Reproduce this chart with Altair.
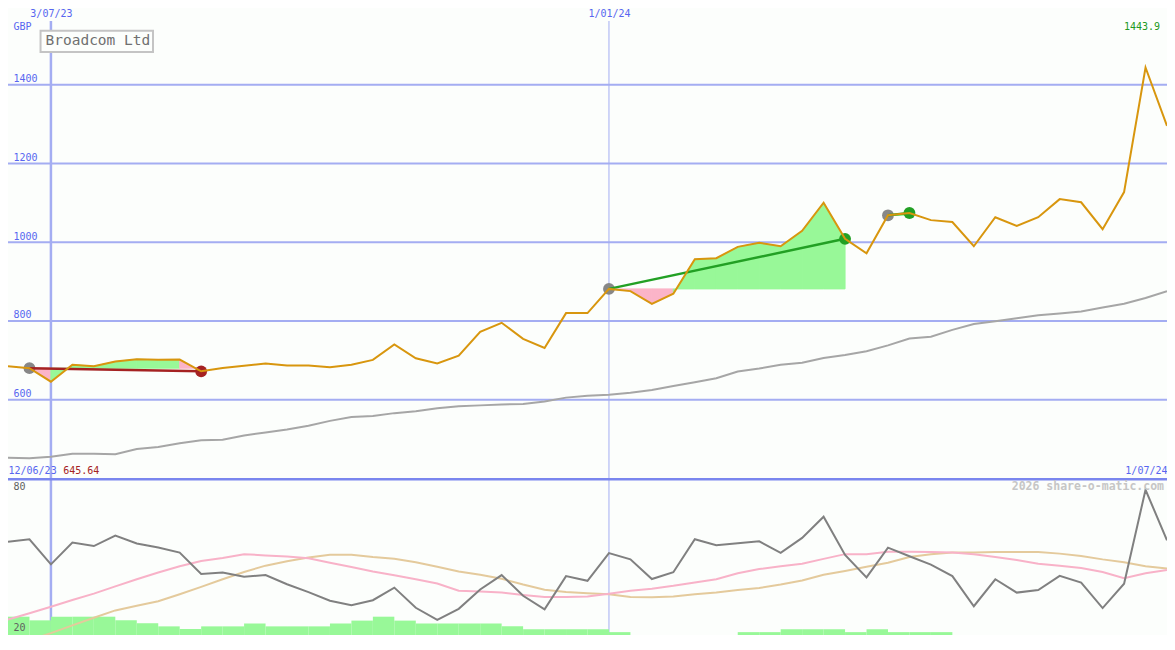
import altair as alt
import pandas as pd

# ---------------- data (weekly points, index 0 = first week shown) ----------------
weeks = list(range(55))
price = [684.6, 680.0, 645.64, 688.8, 685.1, 696.9, 702.8, 701.1, 701.8, 672.0,
         680.7, 686.3, 692.0, 687.1, 687.1, 682.2, 688.8, 701.1, 740.5, 705.3,
         692.0, 711.7, 772.4, 795.3, 754.5, 731.4, 819.9, 819.9, 881.4, 875.8,
         843.1, 869.1, 957.0, 959.4, 988.2, 998.8, 989.7, 1029.0, 1100.4, 1008.6,
         971.7, 1068.4, 1074.3, 1056.1, 1051.2, 989.7, 1063.5, 1041.3, 1063.5, 1109.5,
         1101.4, 1033.2, 1127.4, 1443.9, 1295.7]
ma = [452.6, 451.4, 455.1, 462.5, 462.5, 461.3, 474.8, 479.7, 489.5, 496.9,
      498.2, 509.2, 516.6, 524.0, 533.8, 546.1, 556.0, 558.4, 565.8, 570.7,
      578.1, 583.0, 585.5, 588.0, 589.2, 595.3, 605.2, 610.1, 612.5, 617.5,
      624.8, 634.7, 644.5, 654.4, 671.6, 679.0, 688.8, 693.7, 706.0, 713.4,
      723.2, 738.0, 755.2, 760.1, 777.4, 792.1, 799.5, 806.9, 814.3, 819.2,
      824.1, 833.9, 843.8, 858.5, 875.8]
osc = [55.6, 56.6, 47.0, 55.3, 54.0, 58.0, 55.0, 53.4, 51.5, 43.3,
       43.9, 42.3, 42.9, 39.4, 36.4, 33.1, 31.4, 33.3, 38.1, 30.4,
       25.8, 30.0, 37.4, 42.9, 35.0, 29.8, 42.5, 40.7, 51.3, 48.9,
       41.4, 44.0, 56.6, 54.3, 55.1, 55.8, 51.4, 57.1, 65.2, 50.6,
       42.0, 53.4, 50.1, 46.9, 42.5, 31.0, 41.3, 36.2, 37.2, 42.6,
       40.0, 30.3, 39.6, 75.5, 56.2]
osc_fast = [25.9, 28.3, 30.8, 33.4, 35.8, 38.6, 41.3, 43.9, 46.3, 48.3,
            49.4, 50.9, 50.4, 50.0, 49.3, 47.6, 46.0, 44.3, 42.8, 41.3,
            39.7, 36.9, 36.6, 36.2, 35.3, 34.5, 34.5, 34.7, 35.8, 36.9,
            37.7, 38.8, 40.1, 41.3, 43.6, 45.2, 46.3, 47.2, 49.1, 50.9,
            50.9, 51.8, 51.8, 51.7, 51.5, 50.9, 49.8, 48.7, 47.2, 46.5,
            45.6, 44.1, 41.7, 43.6, 44.8]
osc_slow = [15.2, 18.0, 20.7, 23.7, 26.6, 29.4, 31.2, 32.9, 35.6, 38.4,
            41.3, 44.1, 46.5, 48.2, 49.6, 50.7, 50.7, 49.8, 49.1, 47.8,
            46.1, 44.3, 43.0, 41.5, 39.3, 37.3, 36.4, 36.0, 35.6, 34.5,
            34.4, 34.7, 35.6, 36.2, 37.2, 38.0, 39.3, 40.8, 43.0, 44.5,
            46.1, 47.6, 49.8, 50.9, 51.5, 51.5, 51.7, 51.7, 51.7, 51.1,
            50.2, 48.9, 47.8, 46.3, 45.4]
hist = [27.0, 25.6, 27.0, 27.0, 27.0, 25.6, 24.5, 23.3, 22.3, 23.3,
        23.3, 24.4, 23.3, 23.3, 23.3, 24.4, 25.5, 27.0, 25.5, 24.4,
        24.4, 24.4, 24.4, 23.3, 22.2, 22.2, 22.2, 22.2, 21.1, 20.0,
        20.0, 20.0, 20.0, 20.0, 21.1, 21.1, 22.2, 22.2, 22.2, 21.1,
        22.2, 21.1, 21.1, 21.1, 20.0, 20.0, 20.0, 20.0, 20.0, 20.0,
        20.0, 20.0, 20.0, 20.0, 20.0]
trades = [(1, 9), (28, 39), (41, 42)]          # (entry week, exit week)
grid_weeks = [2, 28]
grid_labels = ["3/07/23", "1/01/24"]
edge_weeks = [0, 54]
edge_labels = ["12/06/23", "1/07/24"]
price_ticks = [600, 800, 1000, 1200, 1400]
osc_ticks = [20, 80]
price_domain = [401, 1562]
osc_domain = [20, 80]
stock_name = "Broadcom Ltd"
currency = "GBP"
high_label = "1443.9"
low_label = "645.64"
credit = "2026 share-o-matic.com"

# ---------------- layout / style ----------------
W, HT, HB = 1159, 457, 157
SX = W / 1175
SY = (HT + HB) / 635
MONO = "DejaVu Sans Mono"
BG = "#fcfefc"
GRID = "#a4adf2"
SEP = "#7a86ee"
BLUE_TXT = "#5866f0"
PRICE_COL = "#d8960e"
MA_COL = "#a6a6a6"
FILL_UP, FILL_DOWN = "#98f898", "#fbb4c8"


def lbl_expr(vals, labs):
    e = "''"
    for v, l in zip(vals, labs):
        e = f"datum.value == {v} ? '{l}' : ({e})"
    return e


xs = alt.Scale(domain=[0, 54], nice=False, zero=False)
ps = alt.Scale(domain=price_domain, nice=False, zero=False)
oscs = alt.Scale(domain=osc_domain, nice=False, zero=False)

# ---------------- derived tables ----------------
price_df = pd.DataFrame({"week": weeks, "price": price, "ma": ma})

fill_rows, trade_rows, dot_rows = [], [], []
seg = 0
for t, (a, b) in enumerate(trades):
    base = price[a]
    res = "gain" if price[b] >= base else "loss"
    for k in range(a, b):
        d = "up" if price[k + 1] >= base else "down"
        for j in (k, k + 1):
            fill_rows.append({"week": j, "price": price[j], "base": base, "seg": seg, "dir": d})
        seg += 1
    trade_rows += [{"week": a, "price": price[a], "trade": t, "res": res},
                   {"week": b, "price": price[b], "trade": t, "res": res}]
    dot_rows += [{"week": a, "price": price[a], "kind": "entry"},
                 {"week": b, "price": price[b], "kind": res}]
fill_df = pd.DataFrame(fill_rows)
trade_df = pd.DataFrame(trade_rows)
dot_df = pd.DataFrame(dot_rows)

osc_df = pd.DataFrame({"week": weeks, "osc": osc, "fast": osc_fast, "slow": osc_slow,
                       "hist": hist, "week_end": [w + 1 for w in weeks],
                       "floor": [osc_domain[0]] * len(weeks)})
vgrid_df = pd.DataFrame({"week": grid_weeks})
hgrid_df = pd.DataFrame({"v": price_ticks})
sep_df = pd.DataFrame({"v": [osc_domain[1]]})

# ---------------- top panel ----------------
top_x_axis = alt.Axis(orient="top", values=grid_weeks, labelExpr=lbl_expr(grid_weeks, grid_labels),
                      grid=False, ticks=False, tickSize=0, domain=False, labelColor=BLUE_TXT,
                      labelFont=MONO, labelFontSize=10, labelPadding=3, title=None)
top_y_axis = alt.Axis(values=price_ticks, format="d", grid=False, ticks=False, tickSize=0,
                      domain=False, labelAlign="left", labelBaseline="bottom", labelPadding=-5,
                      labelOffset=-1, labelColor=BLUE_TXT, labelFont=MONO, labelFontSize=10,
                      title=currency, titleAngle=0, titleAlign="left", titleBaseline="middle",
                      titleX=5 * SX, titleY=6 * SY, titleColor=BLUE_TXT, titleFont=MONO,
                      titleFontSize=10, titleFontWeight="normal", zindex=1)


def TX():
    return alt.X("week:Q", scale=xs, axis=top_x_axis)


def TY(f):
    return alt.Y(f"{f}:Q", scale=ps, axis=top_y_axis, stack=None)


def vwidth():
    return alt.condition(alt.datum.week == grid_weeks[0], alt.value(2.5), alt.value(1))


hgrid = alt.Chart(hgrid_df).mark_rule(color=GRID, strokeWidth=2, clip=True).encode(y=TY("v"))
vgrid_top = alt.Chart(vgrid_df).mark_rule(color=GRID, clip=True).encode(x=TX(), strokeWidth=vwidth())

fill = alt.Chart(fill_df).mark_area(interpolate="linear", opacity=1, strokeWidth=1, clip=True).encode(
    x=TX(), y=TY("price"), y2="base:Q", detail="seg:N",
    color=alt.Color("dir:N", scale=alt.Scale(domain=["up", "down"], range=[FILL_UP, FILL_DOWN]), legend=None),
    stroke=alt.Stroke("dir:N", scale=alt.Scale(domain=["up", "down"], range=[FILL_UP, FILL_DOWN]), legend=None))

dots = alt.Chart(dot_df).mark_circle(size=140, opacity=1, clip=True).encode(
    x=TX(), y=TY("price"),
    color=alt.Color("kind:N", scale=alt.Scale(domain=["entry", "gain", "loss"],
                                              range=["#878787", "#22a024", "#a52222"]), legend=None))

trade_lines = alt.Chart(trade_df).mark_line(strokeWidth=2.5, clip=True).encode(
    x=TX(), y=TY("price"), detail="trade:N",
    color=alt.Color("res:N", scale=alt.Scale(domain=["gain", "loss"], range=["#22a024", "#a52222"]), legend=None))

ma_line = alt.Chart(price_df).mark_line(color=MA_COL, strokeWidth=2, clip=True).encode(x=TX(), y=TY("ma"))
price_line = alt.Chart(price_df).mark_line(color=PRICE_COL, strokeWidth=2, clip=True).encode(
    x=TX(), y=TY("price"))

name_df = pd.DataFrame({"t": [stock_name]})
name_box = alt.Chart(name_df).mark_rect(fill=BG, stroke="#c4c4c4", strokeWidth=2).encode(
    x=alt.value(33 * SX), x2=alt.value(147 * SX), y=alt.value(10 * SY), y2=alt.value(32 * SY))
name_txt = alt.Chart(name_df).mark_text(align="left", baseline="middle", font=MONO, fontSize=14.5,
                                        color="#707070").encode(
    text="t:N", x=alt.value(38 * SX), y=alt.value(21 * SY))

hi_txt = alt.Chart(pd.DataFrame({"t": [high_label]})).mark_text(
    align="right", baseline="middle", font=MONO, fontSize=10, color="#229922").encode(
    text="t:N", x=alt.value(1168 * SX), y=alt.value(6 * SY))

lo_txt = alt.Chart(pd.DataFrame({"t": [low_label]})).mark_text(
    align="left", baseline="bottom", font=MONO, fontSize=10, color="#a52222").encode(
    text="t:N", x=alt.value(56 * SX), y=alt.value(HT - 2))

top = alt.layer(hgrid, vgrid_top, fill, dots, trade_lines, ma_line, price_line,
                name_box, name_txt, hi_txt, lo_txt).properties(
    width=W, height=HT).resolve_scale(color="independent", stroke="independent")

# ---------------- bottom panel ----------------
bx_axis = alt.Axis(orient="top", values=edge_weeks, labelExpr=lbl_expr(edge_weeks, edge_labels),
                   labelFlush=True, grid=False, ticks=False, tickSize=0, domain=False,
                   labelColor=BLUE_TXT, labelFont=MONO, labelFontSize=10, labelPadding=3, title=None)
by_axis = alt.Axis(values=osc_ticks, labelFlush=True, labelFlushOffset=-3, grid=False, ticks=False,
                   tickSize=0, domain=False, labelAlign="left", labelPadding=-5, labelColor="#606060",
                   labelFont=MONO, labelFontSize=10, title=None, zindex=1)


def BX():
    return alt.X("week:Q", scale=xs, axis=bx_axis)


def BY(f):
    return alt.Y(f"{f}:Q", scale=oscs, axis=by_axis, stack=None)


vgrid_bot = alt.Chart(vgrid_df).mark_rule(color=GRID, clip=True).encode(x=BX(), strokeWidth=vwidth())

bars = alt.Chart(osc_df).transform_filter(f"datum.hist > {osc_domain[0]}").mark_rect(
    color="#98f898", clip=True).encode(x=BX(), x2="week_end:Q", y=BY("hist"), y2="floor:Q")

slow_line = alt.Chart(osc_df).mark_line(color="#e4ca9c", strokeWidth=2, clip=True).encode(x=BX(), y=BY("slow"))
fast_line = alt.Chart(osc_df).mark_line(color="#f8b2c8", strokeWidth=2, clip=True).encode(x=BX(), y=BY("fast"))
osc_line = alt.Chart(osc_df).mark_line(color="#808080", strokeWidth=2, clip=True).encode(x=BX(), y=BY("osc"))

separator = alt.Chart(sep_df).mark_rule(color=SEP, strokeWidth=5, clip=True).encode(y=BY("v"))

credit_txt = alt.Chart(pd.DataFrame({"t": [credit]})).mark_text(
    align="right", baseline="middle", font=MONO, fontSize=11.5, fontWeight="bold", color="#c6c6c6").encode(
    text="t:N", x=alt.value(1172 * SX), y=alt.value(9 * SY))

bottom = alt.layer(vgrid_bot, bars, slow_line, fast_line, osc_line, separator, credit_txt).properties(
    width=W, height=HB)

chart = alt.vconcat(top, bottom, spacing=0, bounds="flush").properties(
    padding=0, background=BG).configure_view(stroke=None)

chart.save("out.html", embed_options={"renderer": "svg", "actions": False})
